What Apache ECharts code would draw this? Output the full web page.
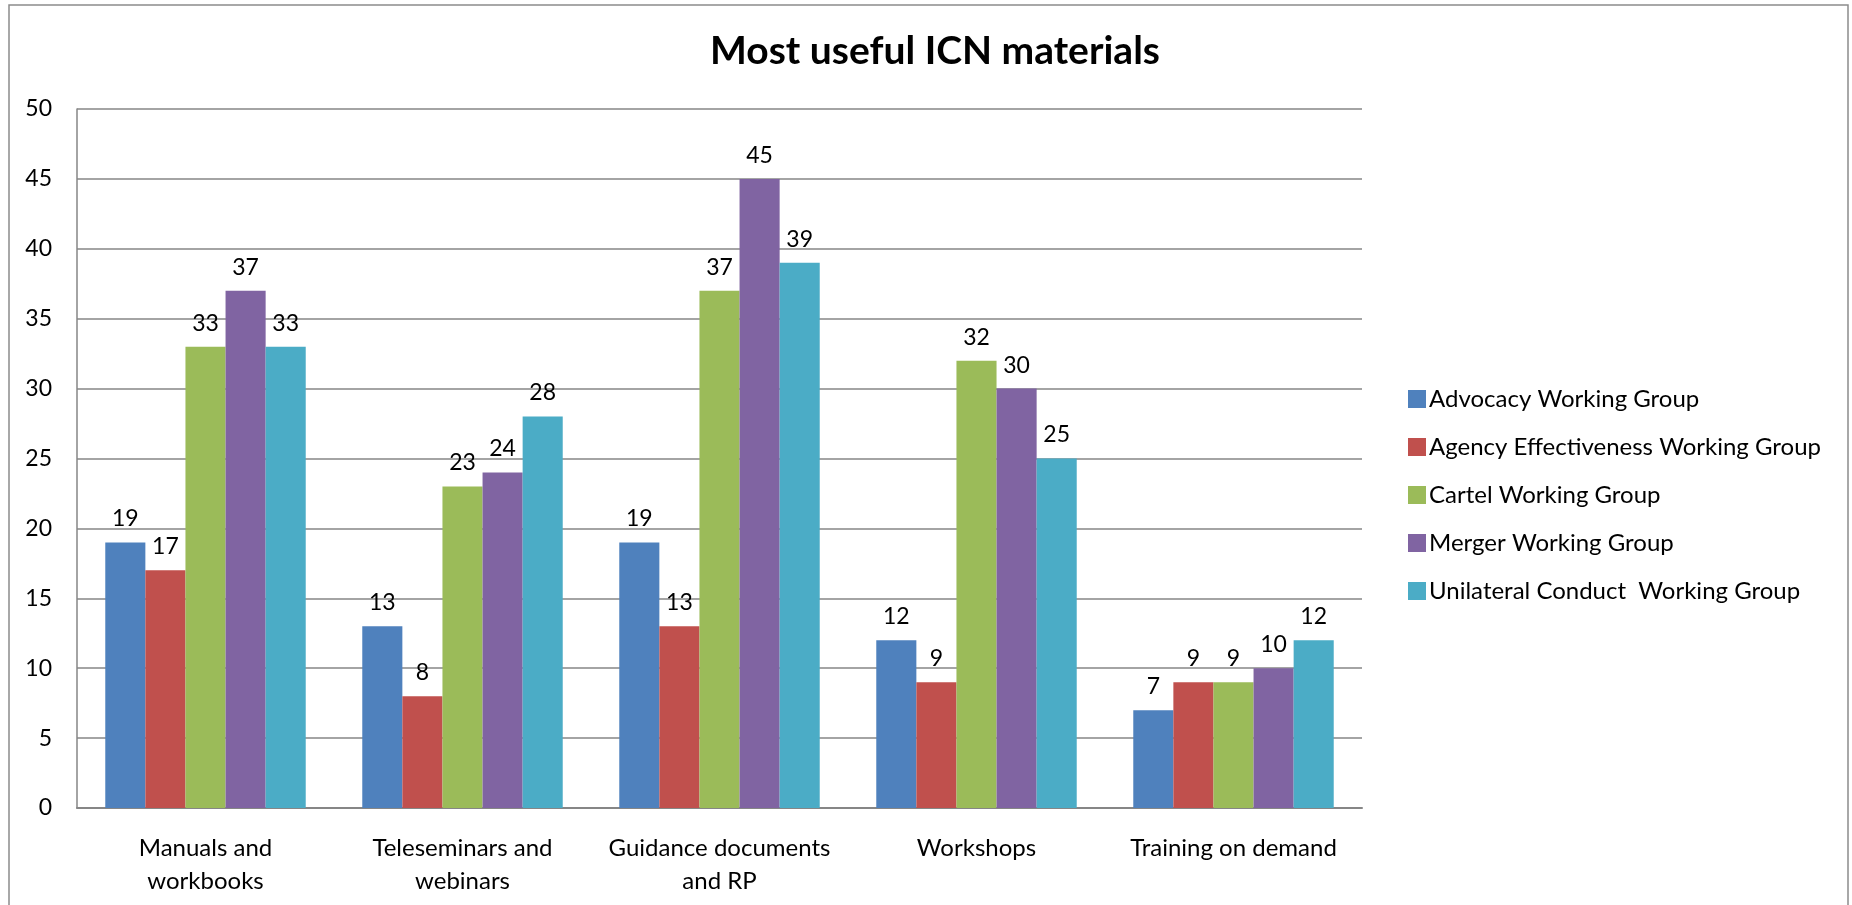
<!DOCTYPE HTML>
<html lang="en">
<head>
<meta charset="utf-8">
<title>Most useful ICN materials</title>
<style>
html, body {
  margin: 0;
  background: #fff;
}
#chart {
  width: 1852px;
  height: 905px;
}
</style>
</head>
<body>
<div id="chart"></div>
<script src="https://cdn.jsdelivr.net/npm/echarts@6/dist/echarts.min.js"></script>
<script>
var categories = ['Manuals and\nworkbooks', 'Teleseminars and\nwebinars', 'Guidance documents\nand RP', 'Workshops', 'Training on demand'];
var groupNames = ['Advocacy Working Group', 'Agency Effectiveness Working Group', 'Cartel Working Group', 'Merger Working Group', 'Unilateral Conduct  Working Group'];
var advocacy = [19, 13, 19, 12, 7];
var agencyEffectiveness = [17, 8, 13, 9, 9];
var cartel = [33, 23, 37, 32, 9];
var merger = [37, 24, 45, 30, 10];
var unilateralConduct = [33, 28, 39, 25, 12];
var colors = ['#4F81BD', '#C0504D', '#9BBB59', '#8064A2', '#4BACC6'];

var font = 'Lato, "Open Sans", sans-serif';
var seriesData = [advocacy, agencyEffectiveness, cartel, merger, unilateralConduct];

var chart = echarts.init(document.getElementById('chart'));
chart.setOption({
  animation: false,
  color: colors,
  textStyle: { fontFamily: font },
  title: {
    text: 'Most useful ICN materials',
    left: 930,
    textAlign: 'center',
    top: 27,
    textStyle: { fontSize: 39, fontWeight: 'bold', color: '#000', fontFamily: font }
  },
  graphic: [{
    type: 'rect',
    shape: { x: 9, y: 5, width: 1839, height: 930 },
    style: { fill: 'none', stroke: '#8c8c8c', lineWidth: 1.5 },
    silent: true
  }],
  legend: {
    orient: 'vertical',
    left: 1403,
    top: 382,
    itemWidth: 18,
    itemHeight: 18,
    itemGap: 24,
    icon: 'rect',
    textStyle: { fontSize: 24, color: '#000', fontFamily: font, padding: [0, 0, 0, -2] },
    data: groupNames
  },
  grid: { left: 77, right: 490, top: 109, bottom: 97 },
  xAxis: {
    type: 'category',
    data: categories,
    axisTick: { show: false },
    axisLine: { lineStyle: { color: '#868686', width: 2 } },
    axisLabel: { interval: 0, fontSize: 24, color: '#000', margin: 24, lineHeight: 33, fontFamily: font }
  },
  yAxis: {
    type: 'value',
    min: 0,
    max: 50,
    interval: 5,
    axisLine: { show: true, lineStyle: { color: '#868686', width: 1.5 } },
    axisTick: { show: false },
    splitLine: { lineStyle: { color: '#868686', width: 1.5 } },
    axisLabel: { fontSize: 23, color: '#000', margin: 25, fontFamily: font }
  },
  series: groupNames.map(function (name, i) {
    return {
      name: name,
      type: 'bar',
      data: seriesData[i],
      barGap: '0%',
      barCategoryGap: '22%',
      label: {
        show: true,
        position: 'top',
        distance: 12,
        fontSize: 23,
        color: '#000',
        fontFamily: font
      }
    };
  })
});
</script>
</body>
</html>
